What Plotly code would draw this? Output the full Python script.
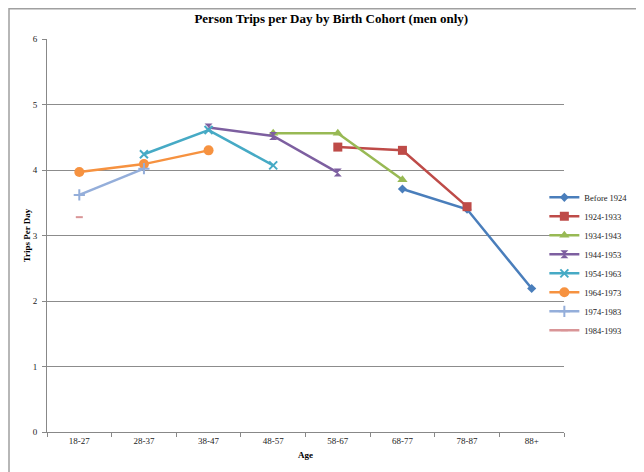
import plotly.graph_objects as go

ages = ["18-27", "28-37", "38-47", "48-57", "58-67", "68-77", "78-87", "88+"]

cohorts = ["Before 1924", "1924-1933", "1934-1943", "1944-1953",
           "1954-1963", "1964-1973", "1974-1983", "1984-1993"]

before_1924 = [None, None, None, None, None, 3.71, 3.40, 2.19]
c1924_1933 = [None, None, None, None, 4.35, 4.30, 3.44, None]
c1934_1943 = [None, None, None, 4.56, 4.56, 3.85, None, None]
c1944_1953 = [None, None, 4.65, 4.52, 3.96, None, None, None]
c1954_1963 = [None, 4.24, 4.61, 4.07, None, None, None, None]
c1964_1973 = [3.97, 4.09, 4.30, None, None, None, None, None]
c1974_1983 = [3.62, 4.02, None, None, None, None, None, None]
c1984_1993 = [3.28, None, None, None, None, None, None, None]

series = [before_1924, c1924_1933, c1934_1943, c1944_1953,
          c1954_1963, c1964_1973, c1974_1983, c1984_1993]

colors = ["#4A7EBB", "#BE4B48", "#98B954", "#7D5FA0",
          "#46AAC5", "#F69240", "#94AEDA", "#D99597"]
symbols = ["diamond", "square", "triangle-up", "hourglass",
           "x-thin-open", "circle", "cross-thin-open", "line-ew-open"]
sizes = [7, 9, 9, 8, 8, 10, 8, 5]

fig = go.Figure()
for name, vals, col, sym, sz in zip(cohorts, series, colors, symbols, sizes):
    open_sym = sym.endswith("-open")
    fig.add_trace(go.Scatter(
        x=ages, y=vals, name=name, mode="lines+markers",
        line=dict(color=col, width=2.5),
        marker=dict(symbol=sym, size=sz, color=col,
                    line=dict(color=col, width=2 if open_sym else 0)),
        connectgaps=False,
    ))

fig.update_layout(
    width=644, height=472,
    margin=dict(l=39, r=88, t=31, b=48, autoexpand=False),
    paper_bgcolor="white", plot_bgcolor="white",
    font=dict(family="Liberation Serif, Times New Roman, serif", size=9, color="#222"),
    title=dict(text="<b>Person Trips per Day by Birth Cohort (men only)</b>",
               x=0.502, xanchor="center", y=0.977, yanchor="middle",
               font=dict(size=13, color="black")),
    showlegend=True,
    legend=dict(x=0.962, xanchor="left", y=0.634, yanchor="top",
                font=dict(size=8.5, color="#222"), tracegroupgap=0,
                itemwidth=30, bgcolor="rgba(0,0,0,0)"),
    xaxis=dict(
        type="category", categoryorder="array", categoryarray=ages,
        range=[-0.5, 7.5], showgrid=False, showline=True, linecolor="#888",
        linewidth=1, ticks="outside", ticklen=4, tickcolor="#888",
        tickson="boundaries", tickfont=dict(size=9),
        title=dict(text="<b>Age</b>", font=dict(size=9, color="black"), standoff=6),
    ),
    yaxis=dict(
        range=[0, 6], dtick=1, showgrid=True, gridcolor="#8C8C8C", gridwidth=1,
        showline=True, linecolor="#888", linewidth=1, ticks="outside",
        ticklen=4, tickcolor="#888", tickfont=dict(size=9), zeroline=False,
        ticklabelstandoff=3,
        title=dict(text="<b>Trips Per Day</b>", font=dict(size=9, color="black"), standoff=0),
    ),
    shapes=[dict(type="rect", xref="paper", yref="paper",
                 x0=(1 - 39) / 517, x1=1.3, y0=-0.3, y1=(424 - 0.75) / 393,
                 line=dict(color="#A0A0A0", width=1.5), layer="below")],
)

fig.write_html("out.html")
